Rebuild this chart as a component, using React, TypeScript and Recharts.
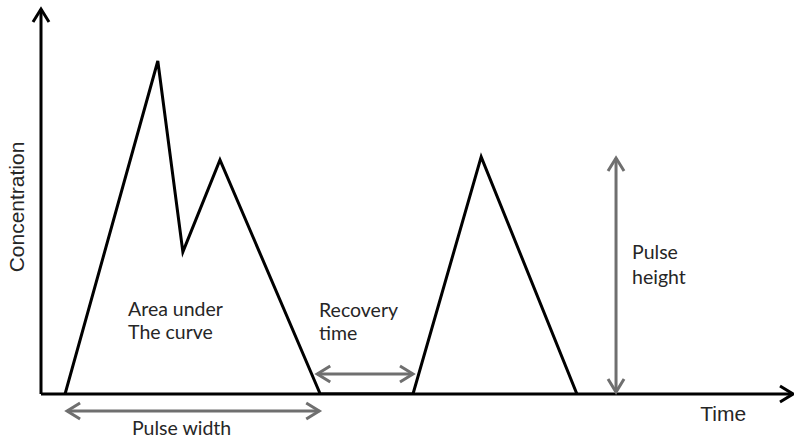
import React from 'react';
import { LineChart, Line, XAxis, YAxis, ReferenceLine, ReferenceDot } from 'recharts';

// Schematic pulse curve (arbitrary units)
const time = [4.8, 23.3, 28.3, 35.7, 55.7, 74.2, 87.8, 106.9];
const concentration = [0, 86.5, 36.9, 60.8, 0, 0, 61.6, 0];

const axisTitles = { x: 'Time', y: 'Concentration' };
const noteLabels = ['Area under', 'The curve', 'Recovery', 'time', 'Pulse', 'height', 'Pulse width'];

const data = time.map((t, i) => ({ time: t, conc: concentration[i] }));

const BLACK = '#000000';
const GRAY = '#6f6f6f';
const TEXT = '#262626';

type ArrowOpts = { color: string; width: number; both: boolean; len: number; half: number };

const arrowShape = (o: ArrowOpts) => (p: any) => {
  const x1 = Number(p.x1), y1 = Number(p.y1), x2 = Number(p.x2), y2 = Number(p.y2);
  const dx = x2 - x1, dy = y2 - y1;
  const L = Math.sqrt(dx * dx + dy * dy) || 1;
  const ux = dx / L, uy = dy / L;
  const nx = -uy, ny = ux;
  const head = (tx: number, ty: number, sx: number, sy: number) => {
    const ax = tx - o.len * sx + o.half * nx, ay = ty - o.len * sy + o.half * ny;
    const bx = tx - o.len * sx - o.half * nx, by = ty - o.len * sy - o.half * ny;
    return `M${ax},${ay} L${tx},${ty} L${bx},${by}`;
  };
  return (
    <g>
      <line x1={x1} y1={y1} x2={x2} y2={y2} stroke={o.color} strokeWidth={o.width} />
      <path d={head(x2, y2, ux, uy)} stroke={o.color} strokeWidth={o.width} fill="none" strokeLinejoin="miter" />
      {o.both && (
        <path d={head(x1, y1, -ux, -uy)} stroke={o.color} strokeWidth={o.width} fill="none" strokeLinejoin="miter" />
      )}
    </g>
  );
};

const textShape = (label: string, font: string, size: number, rotate = false, anchor = 'start') => (p: any) => {
  const cx = Number(p.cx), cy = Number(p.cy);
  return (
    <text
      x={cx}
      y={cy}
      fontFamily={font}
      fontSize={size}
      fill={TEXT}
      textAnchor={anchor as any}
      transform={rotate ? `rotate(-90 ${cx} ${cy})` : undefined}
    >
      {label}
    </text>
  );
};

const CAL = 'Lato, "Open Sans", sans-serif';
const ARI = '"Liberation Sans", Arial, sans-serif';
const CS = 19.5;

export default function App() {
  const axisArrow = arrowShape({ color: BLACK, width: 3, both: false, len: 13, half: 8 });
  const grayArrow = arrowShape({ color: GRAY, width: 3, both: true, len: 13, half: 8 });
  return (
    <div style={{ position: 'absolute', left: 0, top: 0, width: 794, height: 440, background: '#fff' }}>
      <LineChart width={794} height={440} data={data} margin={{ top: 9, right: 1, bottom: 46, left: 41 }}>
        <XAxis hide type="number" dataKey="time" domain={[0, 150]} allowDataOverflow />
        <YAxis hide type="number" domain={[0, 100]} allowDataOverflow />
        <ReferenceLine segment={[{ x: 0, y: 0 }, { x: 0, y: 100 }]} ifOverflow="visible" shape={axisArrow} />
        <ReferenceLine segment={[{ x: 0, y: 0 }, { x: 150, y: 0 }]} ifOverflow="visible" shape={axisArrow} />
        <Line
          type="linear"
          dataKey="conc"
          stroke={BLACK}
          strokeWidth={3}
          dot={false}
          activeDot={false}
          isAnimationActive={false}
        />
        <ReferenceLine segment={[{ x: 5.2, y: -4.42 }, { x: 55.5, y: -4.42 }]} ifOverflow="visible" shape={grayArrow} />
        <ReferenceLine segment={[{ x: 55.1, y: 5.2 }, { x: 74.2, y: 5.2 }]} ifOverflow="visible" shape={grayArrow} />
        <ReferenceLine segment={[{ x: 114.7, y: 0.5 }, { x: 114.7, y: 61.3 }]} ifOverflow="visible" shape={grayArrow} />
        <ReferenceDot x={17.36} y={20.26} r={0} ifOverflow="visible" shape={textShape(noteLabels[0], CAL, CS)} />
        <ReferenceDot x={17.36} y={14.29} r={0} ifOverflow="visible" shape={textShape(noteLabels[1], CAL, CS)} />
        <ReferenceDot x={55.46} y={20.0} r={0} ifOverflow="visible" shape={textShape(noteLabels[2], CAL, CS)} />
        <ReferenceDot x={55.46} y={14.03} r={0} ifOverflow="visible" shape={textShape(noteLabels[3], CAL, CS)} />
        <ReferenceDot x={117.9} y={35.06} r={0} ifOverflow="visible" shape={textShape(noteLabels[4], CAL, CS)} />
        <ReferenceDot x={117.9} y={28.57} r={0} ifOverflow="visible" shape={textShape(noteLabels[5], CAL, CS)} />
        <ReferenceDot x={18.15} y={-10.7} r={0} ifOverflow="visible" shape={textShape(noteLabels[6], CAL, CS)} />
        <ReferenceDot x={131.5} y={-7.01} r={0} ifOverflow="visible" shape={textShape(axisTitles.x, ARI, 21)} />
        <ReferenceDot x={-3.39} y={48.57} r={0} ifOverflow="visible" shape={textShape(axisTitles.y, ARI, 21, true, 'middle')} />
      </LineChart>
    </div>
  );
}
